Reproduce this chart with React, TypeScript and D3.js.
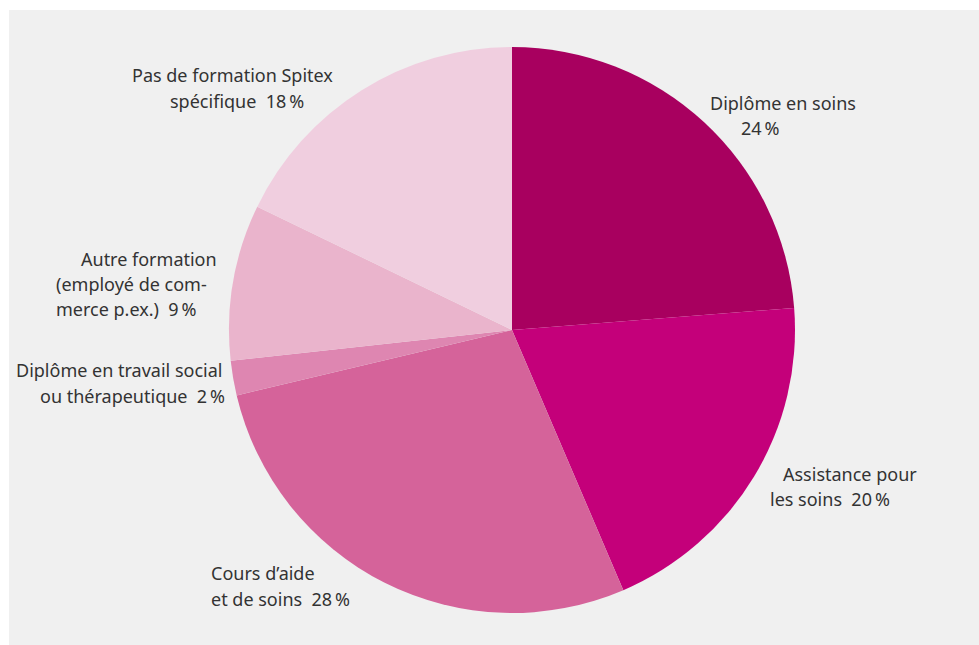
import React from "react";
import * as d3 from "d3";

const categories = [
  "Diplôme en soins",
  "Assistance pour les soins",
  "Cours d’aide et de soins",
  "Diplôme en travail social ou thérapeutique",
  "Autre formation (employé de commerce p.ex.)",
  "Pas de formation Spitex spécifique",
];
const values = [24, 20, 28, 2, 9, 18];
const colors = ["#a8005f", "#c4007a", "#d5639a", "#de86b1", "#eab4cc", "#f0cedf"];

// label lines per slice: [text, x, baseline y]
const labelLines: [string, number, number][][] = [
  [["Diplôme en soins", 710, 110], [`${values[0]}\u202F%`, 741, 135]],
  [["Assistance pour", 783, 481], [`les soins  ${values[1]}\u202F%`, 770, 506]],
  [["Cours d’aide", 211, 580], [`et de soins  ${values[2]}\u202F%`, 211, 606]],
  [["Diplôme en travail social", 16, 377], [`ou thérapeutique  ${values[3]}\u202F%`, 40, 403]],
  [["Autre formation", 81, 266], ["(employé de com-", 56, 291], [`merce p.ex.)  ${values[4]}\u202F%`, 56, 316]],
  [["Pas de formation Spitex", 132, 82], [`spécifique  ${values[5]}\u202F%`, 170, 108]],
];

const W = 979;
const H = 645;
const cx = 512;
const cy = 330;
const R = 283;

export default function App() {
  const pie = d3.pie<number>().sort(null).startAngle(0).endAngle(2 * Math.PI)(values);
  const arc = d3.arc<d3.PieArcDatum<number>>().innerRadius(0).outerRadius(R);
  return (
    <svg
      width={W}
      height={H}
      style={{ position: "absolute", left: 0, top: 0 }}
      fontFamily="'Noto Sans', 'DejaVu Sans', sans-serif"
    >
      <rect x={0} y={0} width={W} height={H} fill="#ffffff" />
      <rect x={9} y={10} width={W - 9} height={H - 10} fill="#f0f0f0" />
      <g transform={`translate(${cx},${cy})`}>
        {pie.map((d, i) => (
          <path key={i} d={arc(d) || ""} fill={colors[i]} />
        ))}
      </g>
      {labelLines.map((lines, i) => (
        <g key={i}>
          {lines.map(([t, x, y], j) => (
            <text key={j} x={x} y={y} fontSize={18} fill="#333333" style={{ whiteSpace: "pre" }}>
              {t}
            </text>
          ))}
        </g>
      ))}
    </svg>
  );
}
